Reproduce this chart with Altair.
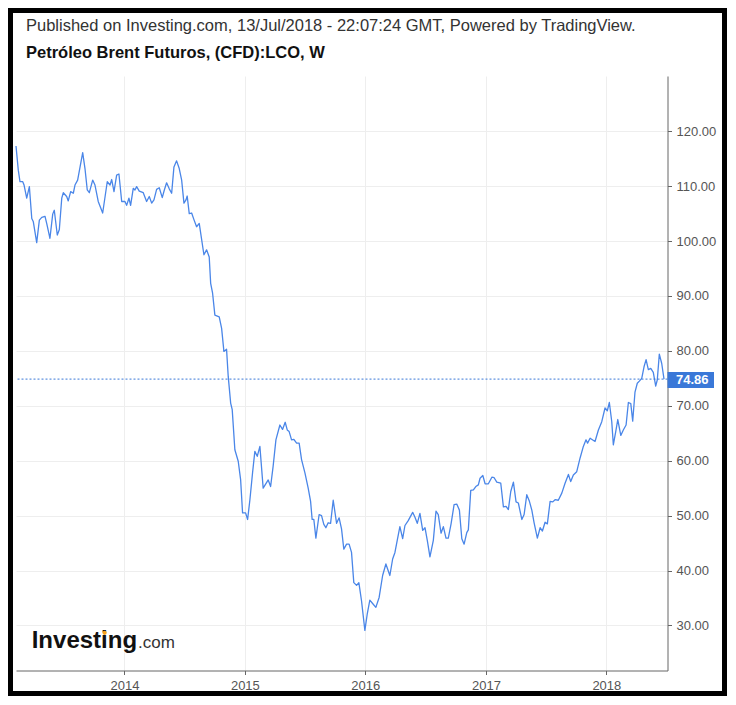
import altair as alt
import pandas as pd
from datetime import datetime

# ---------------- data ----------------
title_line1 = ["Published on Investing.com, 13/Jul/2018 - 22:07:24 GMT, Powered by TradingView."]
title_line2 = ["Petróleo Brent Futuros, (CFD):LCO, W"]
logo_main = ["Investing"]
logo_suffix = [".com"]
last_price = [74.86]
last_label = ["74.86"]
y_ticks = [30, 40, 50, 60, 70, 80, 90, 100, 110, 120]
x_tick_years = [2014, 2015, 2016, 2017, 2018]
x_domain_years = [2013.099, 2018.508]
y_domain = [21.8, 130.05]

# weekly Brent closes (date as decimal year)
dec_years = [
    2013.099, 2013.118, 2013.132, 2013.155, 2013.166, 2013.188, 2013.210, 2013.230, 2013.243, 2013.271,
    2013.293, 2013.313, 2013.340, 2013.354, 2013.381, 2013.404, 2013.417, 2013.442, 2013.459, 2013.479,
    2013.492, 2013.520, 2013.533, 2013.553, 2013.575, 2013.589, 2013.611, 2013.653, 2013.672, 2013.691,
    2013.708, 2013.736, 2013.755, 2013.782, 2013.819, 2013.857, 2013.880, 2013.894, 2013.913, 2013.935,
    2013.954, 2013.977, 2014.004, 2014.018, 2014.037, 2014.051, 2014.073, 2014.087, 2014.101, 2014.123,
    2014.156, 2014.184, 2014.206, 2014.226, 2014.245, 2014.267, 2014.289, 2014.314, 2014.330, 2014.350,
    2014.372, 2014.392, 2014.411, 2014.433, 2014.455, 2014.475, 2014.494, 2014.511, 2014.521, 2014.538,
    2014.558, 2014.577, 2014.599, 2014.621, 2014.660, 2014.682, 2014.704, 2014.716, 2014.732, 2014.751,
    2014.787, 2014.807, 2014.826, 2014.848, 2014.862, 2014.882, 2014.895, 2014.917, 2014.945, 2014.965,
    2014.981, 2015.006, 2015.023, 2015.042, 2015.064, 2015.083, 2015.103, 2015.125, 2015.152, 2015.194,
    2015.214, 2015.235, 2015.258, 2015.291, 2015.313, 2015.335, 2015.352, 2015.368, 2015.388, 2015.407,
    2015.430, 2015.451, 2015.471, 2015.499, 2015.526, 2015.546, 2015.559, 2015.573, 2015.590, 2015.617,
    2015.637, 2015.656, 2015.673, 2015.692, 2015.712, 2015.734, 2015.762, 2015.783, 2015.803, 2015.822,
    2015.845, 2015.866, 2015.886, 2015.905, 2015.928, 2015.947, 2015.969, 2015.997, 2016.016, 2016.038,
    2016.061, 2016.088, 2016.115, 2016.144, 2016.171, 2016.204, 2016.227, 2016.246, 2016.265, 2016.287,
    2016.310, 2016.329, 2016.356, 2016.393, 2016.412, 2016.431, 2016.453, 2016.476, 2016.495, 2016.514,
    2016.536, 2016.564, 2016.586, 2016.605, 2016.628, 2016.647, 2016.669, 2016.688, 2016.711, 2016.736,
    2016.758, 2016.780, 2016.800, 2016.819, 2016.841, 2016.854, 2016.874, 2016.896, 2016.916, 2016.937,
    2016.951, 2016.974, 2016.993, 2017.020, 2017.049, 2017.068, 2017.090, 2017.123, 2017.145, 2017.167,
    2017.186, 2017.206, 2017.228, 2017.250, 2017.269, 2017.298, 2017.317, 2017.339, 2017.361, 2017.381,
    2017.400, 2017.427, 2017.450, 2017.469, 2017.491, 2017.510, 2017.533, 2017.555, 2017.574, 2017.601,
    2017.630, 2017.657, 2017.685, 2017.704, 2017.726, 2017.754, 2017.782, 2017.809, 2017.831, 2017.844,
    2017.865, 2017.906, 2017.934, 2017.962, 2017.989, 2018.008, 2018.025, 2018.045, 2018.058, 2018.078,
    2018.095, 2018.120, 2018.141, 2018.164, 2018.183, 2018.203, 2018.219, 2018.238, 2018.257, 2018.274,
    2018.294, 2018.313, 2018.330, 2018.349, 2018.369, 2018.390, 2018.410, 2018.423, 2018.440, 2018.460,
    2018.479,
]
prices = [
    117.3, 112.9, 110.8, 110.8, 110.2, 107.8, 109.9, 104.1, 103.5, 99.7,
    103.8, 104.3, 104.5, 103.2, 100.5, 104.9, 105.6, 101.1, 102.1, 107.8,
    108.8, 108.1, 107.3, 109.0, 108.7, 110.2, 111.1, 116.1, 113.2, 109.3,
    108.8, 111.1, 110.2, 107.2, 105.1, 110.8, 110.2, 111.2, 109.0, 112.0,
    112.2, 107.2, 107.2, 106.5, 107.8, 106.5, 109.6, 109.3, 109.9, 109.1,
    108.8, 107.2, 108.1, 106.9, 107.5, 109.4, 109.7, 107.9, 109.2, 110.6,
    109.5, 108.7, 113.5, 114.6, 113.2, 111.1, 106.9, 107.5, 108.2, 105.0,
    105.1, 103.9, 102.6, 103.2, 97.5, 98.4, 97.1, 92.3, 90.5, 86.5,
    86.2, 84.1, 79.9, 80.3, 75.3, 70.5, 69.3, 62.0, 59.9, 56.5,
    50.5, 50.5, 49.3, 52.9, 57.8, 61.7, 60.8, 62.6, 55.0, 56.5,
    55.3, 59.0, 63.8, 66.5, 65.7, 67.0, 65.6, 65.3, 63.8, 63.9,
    63.2, 63.2, 60.2, 57.8, 55.0, 52.6, 49.3, 49.3, 45.9, 50.2,
    50.0, 48.4, 47.8, 48.7, 48.6, 52.8, 48.6, 49.6, 47.6, 43.9,
    44.8, 44.8, 43.3, 37.8, 37.3, 37.8, 34.5, 29.1, 32.0, 34.6,
    34.0, 33.3, 35.1, 39.1, 41.2, 39.1, 42.1, 43.3, 45.5, 48.0,
    45.8, 48.2, 49.1, 50.6, 49.7, 48.6, 50.4, 47.3, 47.8, 45.5,
    42.5, 45.5, 50.8, 50.2, 46.8, 48.0, 45.9, 45.9, 48.5, 52.0,
    52.1, 51.0, 45.8, 44.8, 46.9, 47.4, 54.6, 54.7, 55.3, 55.6,
    56.8, 57.3, 55.8, 55.8, 57.0, 56.9, 56.1, 55.9, 51.6, 51.7,
    51.1, 54.4, 56.1, 52.5, 52.3, 49.3, 50.2, 53.8, 52.6, 51.0,
    48.7, 45.9, 47.8, 47.2, 48.8, 48.5, 52.6, 52.5, 52.9, 52.8,
    54.1, 55.9, 57.5, 56.2, 57.4, 58.0, 60.5, 62.6, 63.8, 63.2,
    64.1, 63.5, 65.6, 67.1, 69.6, 69.1, 70.6, 67.1, 62.9, 65.3,
    67.5, 64.6, 65.6, 66.5, 70.6, 70.4, 67.2, 72.5, 74.1, 74.5,
    75.0, 77.1, 78.4, 76.6, 76.8, 76.1, 73.6, 74.7, 79.4, 77.7,
    74.86,
]


def to_dt(d):
    y = int(d)
    start = datetime(y, 1, 1)
    end = datetime(y + 1, 1, 1)
    return start + (end - start) * (d - y)


def vl_dt(d):
    t = to_dt(d)
    return alt.DateTime(year=t.year, month=t.month, date=t.day, hours=t.hour, minutes=t.minute)


df = pd.DataFrame({
    "date": [to_dt(d).strftime("%Y-%m-%dT%H:%M:%S") for d in dec_years],
    "price": prices,
})
df_last = pd.DataFrame({"price": last_price, "label": last_label})

# ---------------- styles ----------------
FONT = "Liberation Sans"
BLUE_LINE = "#4a86e8"
BLUE_BOX = "#3a78d8"
AX = "#666666"
LBL = "#555555"
GRID = "#eeeeee"

x_scale = alt.Scale(domain=[vl_dt(x_domain_years[0]), vl_dt(x_domain_years[1])], nice=False)
y_scale = alt.Scale(domain=y_domain, nice=False, zero=False)

x_enc = alt.X(
    "date:T", scale=x_scale, title=None,
    axis=alt.Axis(
        values=[alt.DateTime(year=y, month=1, date=1) for y in x_tick_years],
        format="%Y", labelFont=FONT, labelFontSize=13, labelColor=LBL,
        tickSize=4, tickColor=AX, domainColor=AX, gridColor=GRID, grid=True,
        labelPadding=5, labelFlush=False,
    ),
)
y_enc = alt.Y(
    "price:Q", scale=y_scale, title=None,
    axis=alt.Axis(
        orient="right", values=y_ticks, format=".2f", labelFont=FONT,
        labelFontSize=13, labelColor=LBL, tickSize=4, tickColor=AX,
        domainColor=AX, gridColor=GRID, grid=True, labelPadding=4.5,
        labelFlush=False,
    ),
)

line = alt.Chart(df).mark_line(color=BLUE_LINE, strokeWidth=1.3, strokeJoin="round").encode(x=x_enc, y=y_enc)

last_rule = alt.Chart(df_last).mark_rule(color=BLUE_BOX, strokeWidth=1, strokeDash=[2, 2]).encode(
    y=alt.Y("price:Q", scale=y_scale, title=None)
)
last_box = alt.Chart(df_last).mark_rect(color=BLUE_BOX, yOffset=-7, y2Offset=9).encode(
    x=alt.value(651.5), x2=alt.value(698),
    y=alt.Y("price:Q", scale=y_scale, title=None), y2="price:Q",
)
last_text = alt.Chart(df_last).mark_text(
    align="left", baseline="middle", color="white", fontWeight="bold",
    fontSize=13, font=FONT, dy=1,
).encode(x=alt.value(660), y=alt.Y("price:Q", scale=y_scale, title=None), text="label:N")

t1 = alt.Chart(pd.DataFrame({"t": title_line1})).mark_text(
    align="left", baseline="alphabetic", fontSize=16.5, font=FONT, color="#333333"
).encode(x=alt.value(10), y=alt.value(-45), text="t:N")
t2 = alt.Chart(pd.DataFrame({"t": title_line2})).mark_text(
    align="left", baseline="alphabetic", fontSize=16.5, font=FONT, fontWeight="bold", color="#111111"
).encode(x=alt.value(10), y=alt.value(-17.7), text="t:N")

logo1 = alt.Chart(pd.DataFrame({"t": logo_main})).mark_text(
    align="left", baseline="alphabetic", fontSize=24, font=FONT, fontWeight="bold", color="#111111"
).encode(x=alt.value(15.7), y=alt.value(572.3), text="t:N")
logo2 = alt.Chart(pd.DataFrame({"t": logo_suffix})).mark_text(
    align="left", baseline="alphabetic", fontSize=17, font=FONT, color="#333333"
).encode(x=alt.value(122), y=alt.value(572.3), text="t:N")
logo_dot = alt.Chart(pd.DataFrame({"t": logo_main})).mark_circle(
    color="#f7a21b", opacity=1, size=18
).encode(x=alt.value(88.6), y=alt.value(556.8))

frame = alt.Chart(pd.DataFrame({"t": [0]})).mark_rect(
    fillOpacity=0, stroke="black", strokeWidth=5
).encode(x=alt.value(-5.5), x2=alt.value(708.5), y=alt.value(-65.5), y2=alt.value(617.5))

chart = alt.layer(
    line, last_rule, last_box, last_text, t1, t2, logo1, logo2, logo_dot, frame
).properties(
    width=651.5, height=594.5,
    autosize=alt.AutoSizeParams(type="none"),
    padding={"left": 8, "top": 68, "right": 59.5, "bottom": 25.5},
    background="white",
).configure_view(stroke=None)

chart.save("out.html", embed_options={"renderer": "svg", "actions": False})
